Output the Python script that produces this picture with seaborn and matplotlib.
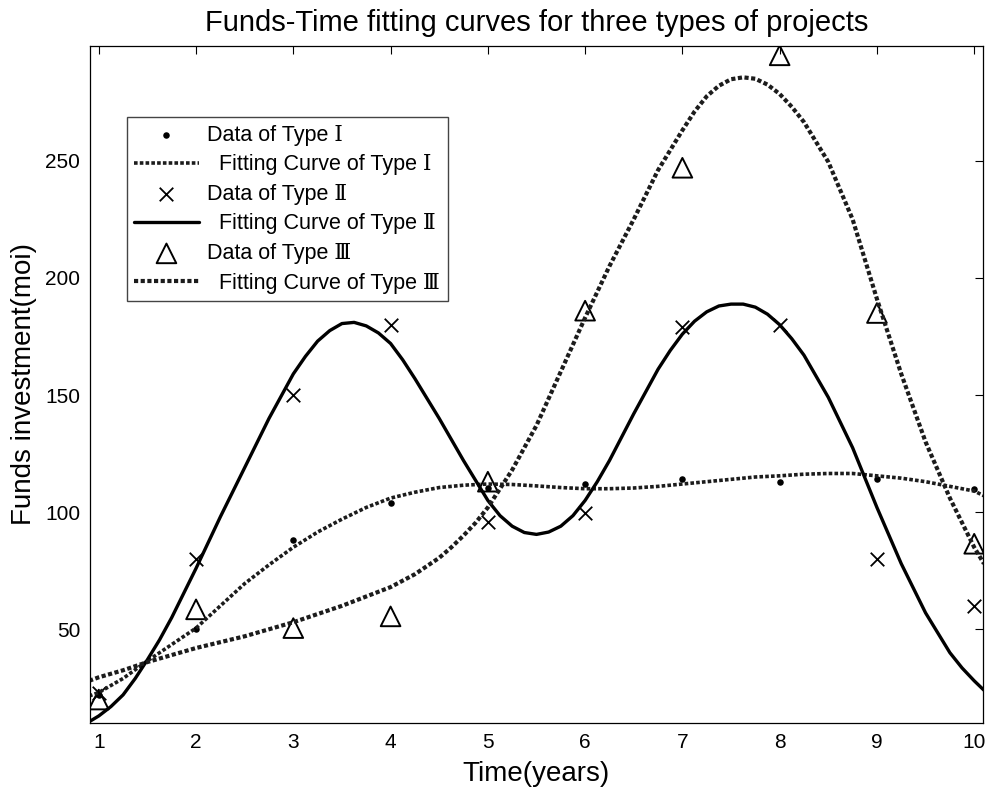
import numpy as np
import pandas as pd
import matplotlib
matplotlib.use("Agg")
import matplotlib.pyplot as plt
import seaborn as sns

# measured data points
years = [1, 2, 3, 4, 5, 6, 7, 8, 9, 10]
type1_data = [22, 50, 88, 104, 110.5, 112, 114, 113, 114, 110]
type2_data = [23, 80, 150, 180, 96, 99.5, 179, 180, 80, 60]
type3_data = [20, 58.5, 50.5, 55.5, 113, 186, 247, 295, 185, 86.5]

# fitting curves
type1_x = [0.9, 1.0, 1.25, 1.5, 1.75, 2.0, 2.25, 2.5, 2.75, 3.0, 3.25, 3.5, 3.75,
           4.0, 4.25, 4.5, 4.75, 5.0, 5.25, 5.5, 5.75, 6.0, 6.25, 6.5, 6.75,
           7.0, 7.25, 7.5, 7.75, 8.0, 8.25, 8.5, 8.75, 9.0, 9.25, 9.5, 9.75,
           10.0, 10.1]
type1_fit = [21.5, 23, 29, 36.5, 43.5, 50.5, 60, 69.5, 77.5, 85, 91.5, 97, 102,
             106, 108.5, 110.5, 111.5, 112, 111.8, 111.2, 110.5, 110, 110, 110.3, 111,
             112, 113, 114, 115, 115.5, 116.2, 116.5, 116.5, 115.5, 114.5, 113, 111,
             109, 107]

type2_x = [0.9, 1.0, 1.125, 1.25, 1.375, 1.5, 1.625, 1.75, 1.875, 2.0, 2.25, 2.5,
           2.75, 3.0, 3.125, 3.25, 3.375, 3.5, 3.625, 3.75, 3.875, 4.0, 4.125,
           4.25, 4.5, 4.75, 5.0, 5.125, 5.25, 5.375, 5.5, 5.625, 5.75, 5.875,
           6.0, 6.125, 6.25, 6.5, 6.75, 6.875, 7.0, 7.125, 7.25, 7.375, 7.5,
           7.625, 7.75, 7.875, 8.0, 8.125, 8.25, 8.5, 8.75, 9.0, 9.25, 9.5,
           9.75, 9.875, 10.0, 10.1]
type2_fit = [10.5, 13, 17, 22, 29, 37, 45.5, 55, 65.5, 76, 98, 119,
             140, 159, 166.5, 173, 177.5, 180.5, 181, 179.5, 176.5, 172, 165,
             157, 140, 122, 105, 98.5, 94, 91.3, 90.5, 91.5, 94, 98.5,
             105, 113, 122, 142, 161, 169, 176, 181.5, 185.5, 188, 188.8,
             188.8, 187.5, 184.5, 180, 174, 167, 149, 127.5, 102, 78, 57,
             40, 33.5, 28, 24]

type3_x = [0.9, 1.0, 1.25, 1.5, 1.75, 2.0, 2.25, 2.5, 2.75, 3.0, 3.25, 3.5, 3.75,
           4.0, 4.25, 4.5, 4.625, 4.75, 4.875, 5.0, 5.25, 5.5, 5.75, 6.0, 6.25,
           6.5, 6.75, 7.0, 7.125, 7.25, 7.375, 7.5, 7.625, 7.75, 7.875, 8.0,
           8.125, 8.25, 8.5, 8.75, 9.0, 9.25, 9.5, 9.75, 10.0, 10.1]
type3_fit = [28, 29.5, 32.5, 36, 39, 42, 44.5, 47, 50, 53, 56.5, 60, 64,
             68, 73.5, 80.5, 85, 90, 95.5, 102, 118, 137, 160, 183, 205,
             225, 246, 263, 271, 277.5, 282, 284.8, 285.6, 285, 282.5, 278.5,
             273, 266.5, 249.5, 225, 191, 159, 130, 106, 85, 78]

labels = ["Data of Type \u2160", "  Fitting Curve of Type \u2160",
          "Data of Type \u2161", "  Fitting Curve of Type \u2161",
          "Data of Type \u2162", "  Fitting Curve of Type \u2162"]

sns.set_theme(style="white")
plt.rcParams["font.family"] = ["Liberation Sans", "DejaVu Serif"]
plt.rcParams["text.color"] = "black"
plt.rcParams["axes.labelcolor"] = "black"

fig = plt.figure(figsize=(9.87, 7.91), dpi=100)
ax = fig.add_axes([0.0912, 0.086, 0.9047, 0.8559])

dotted = (0, (1.0, 0.6))

sns.scatterplot(x=years, y=type1_data, marker="o", s=22, color="black",
                edgecolor="black", linewidth=0, label=labels[0], ax=ax)
sns.lineplot(x=type1_x, y=type1_fit, color="#1c1c1c", lw=2.6, linestyle=dotted,
             label=labels[1], ax=ax)
sns.scatterplot(x=years, y=type2_data, marker="x", s=95, color="black",
                linewidth=1.3, label=labels[2], ax=ax)
sns.lineplot(x=type2_x, y=type2_fit, color="black", lw=2.4,
             label=labels[3], ax=ax)
sns.scatterplot(x=years, y=type3_data, marker="^", s=200, facecolors="none",
                edgecolor="black", linewidth=1.4, label=labels[4], ax=ax)
sns.lineplot(x=type3_x, y=type3_fit, color="#1c1c1c", lw=3.0, linestyle=dotted,
             label=labels[5], ax=ax)

ax.set_xlim(0.91, 10.09)
ax.set_ylim(10, 299)
ax.set_xticks(years)
ax.set_yticks([50, 100, 150, 200, 250])
ax.tick_params(direction="in", top=True, right=True, length=6, width=0.8,
               labelsize=15, pad=7, colors="black")
for sp in ax.spines.values():
    sp.set_color("black")
    sp.set_linewidth(0.9)

ax.set_title("Funds-Time fitting curves for three types of projects",
             fontsize=21, pad=11, color="black")
ax.set_xlabel("Time(years)", fontsize=20, labelpad=7)
ax.set_ylabel("Funds investment(moi)", fontsize=20, labelpad=6)

leg = ax.legend(loc="upper left", bbox_to_anchor=(0.041, 0.895), borderaxespad=0,
                fontsize=15.5, handlelength=3.0, handletextpad=0.4,
                labelspacing=0.4, borderpad=0.35, fancybox=False, frameon=True,
                framealpha=1, scatterpoints=1)
leg.get_frame().set_edgecolor("#444444")
leg.get_frame().set_linewidth(1.0)
for t in leg.get_texts():
    t.set_color("black")

fig.savefig("out.png", dpi=100)
